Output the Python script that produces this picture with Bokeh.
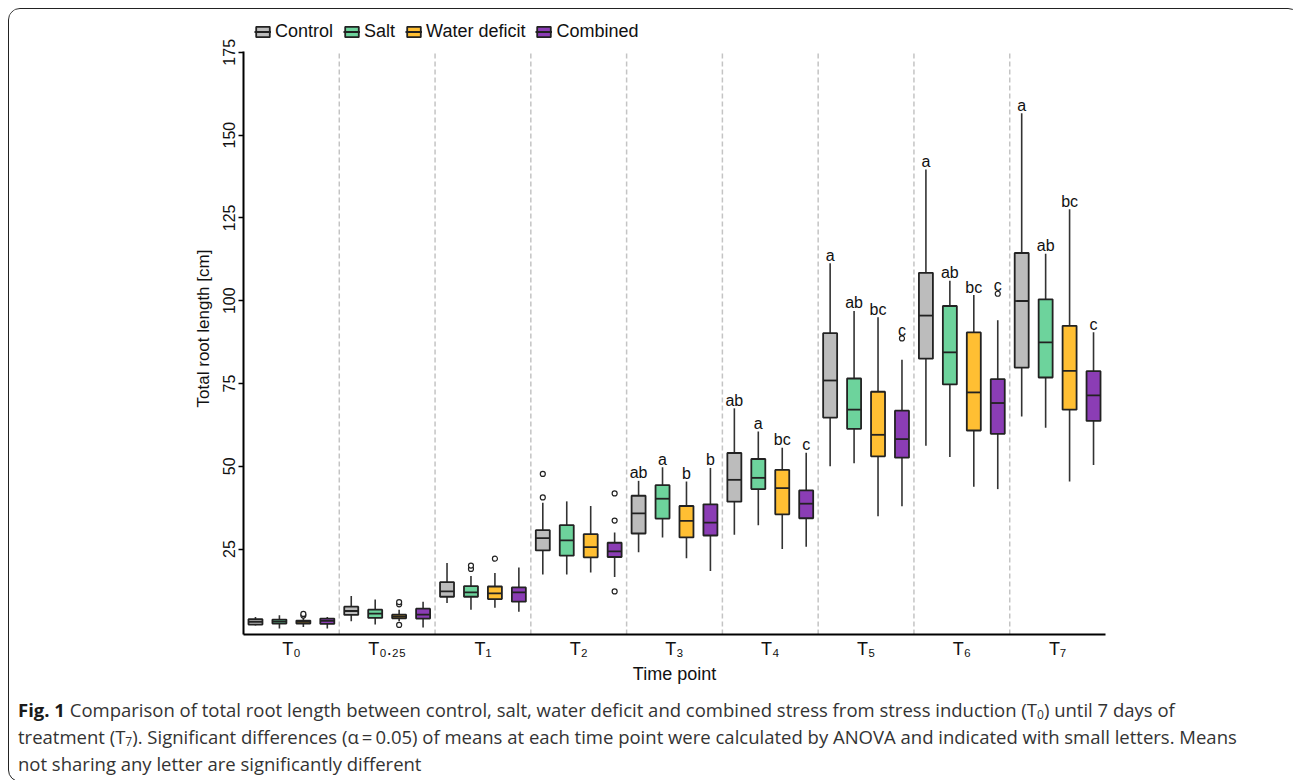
from bokeh.plotting import figure
from bokeh.models import ColumnDataSource, FixedTicker, Legend, LegendItem, Div
from bokeh.layouts import column
from bokeh.embed import file_html
from bokeh.resources import INLINE
from bokeh.core.properties import value

# ---------------- data ----------------
time_labels = ["T\u2080", "T\u2080.\u2082\u2085", "T\u2081", "T\u2082", "T\u2083",
               "T\u2084", "T\u2085", "T\u2086", "T\u2087"]
treatments = ["Control", "Salt", "Water deficit", "Combined"]
y_ticks = [25, 50, 75, 100, 125, 150, 175]

control_lo = [1.9, 3.2, 8.7, 17.3, 24.0, 29.3, 50.0, 56.2, 65.0]
control_q1 = [2.2, 5.1, 10.6, 24.6, 29.7, 39.3, 64.7, 82.5, 79.8]
control_med = [3.0, 6.3, 12.2, 28.3, 35.8, 45.9, 75.9, 95.5, 99.9]
control_q3 = [3.8, 7.6, 15.0, 30.7, 41.1, 54.0, 90.2, 108.4, 114.4]
control_hi = [4.5, 10.8, 20.8, 39.0, 45.6, 67.5, 111.3, 139.6, 156.6]
control_out_t = [3, 3]
control_out_v = [40.6, 47.7]
control_letters = ["", "", "", "", "ab", "ab", "a", "a", "a"]

salt_lo = [1.0, 2.2, 6.7, 17.3, 28.5, 32.2, 50.9, 52.8, 61.6]
salt_q1 = [2.5, 4.2, 10.6, 23.0, 34.2, 43.1, 61.3, 74.7, 76.8]
salt_med = [3.1, 5.5, 11.9, 27.6, 40.2, 46.5, 67.1, 84.4, 87.4]
salt_q3 = [3.7, 6.7, 13.8, 32.2, 44.3, 52.2, 76.5, 98.4, 100.4]
salt_hi = [5.0, 9.8, 16.9, 39.4, 49.7, 60.5, 96.9, 106.0, 114.2]
salt_out_t = [2, 2]
salt_out_v = [19.0, 20.0]
salt_letters = ["", "", "", "", "a", "a", "ab", "ab", "ab"]

water_lo = [1.5, 3.2, 7.3, 17.9, 22.2, 25.0, 34.9, 43.8, 45.4]
water_q1 = [2.5, 4.1, 9.9, 22.5, 28.5, 35.5, 53.0, 60.8, 67.1]
water_med = [3.0, 4.7, 11.6, 25.6, 33.5, 43.4, 59.5, 72.3, 78.8]
water_q3 = [3.4, 5.2, 13.7, 29.5, 38.0, 48.9, 72.5, 90.4, 92.4]
water_hi = [4.5, 6.7, 17.8, 38.0, 45.4, 55.6, 95.0, 101.7, 127.6]
water_out_t = [0, 0, 1, 1, 1, 2]
water_out_v = [4.9, 5.4, 8.3, 9.0, 2.1, 22.1]
water_letters = ["", "", "", "", "b", "bc", "bc", "bc", "bc"]

comb_lo = [1.0, 1.3, 6.1, 16.6, 18.4, 25.7, 37.9, 43.1, 50.4]
comb_q1 = [2.4, 4.0, 9.1, 22.6, 29.1, 34.3, 52.6, 59.8, 63.7]
comb_med = [3.3, 5.2, 11.9, 24.3, 33.0, 38.7, 58.2, 69.1, 71.4]
comb_q3 = [4.0, 7.0, 13.4, 26.9, 38.5, 42.7, 66.8, 76.3, 78.7]
comb_hi = [4.5, 9.1, 19.4, 30.0, 49.5, 54.1, 82.2, 94.1, 90.5]
comb_out_t = [3, 3, 3, 6, 7]
comb_out_v = [12.2, 33.6, 41.8, 88.6, 102.1]
comb_letters = ["", "", "", "", "b", "c", "c", "c", "c"]

series = [
    (control_lo, control_q1, control_med, control_q3, control_hi, control_out_t, control_out_v, control_letters),
    (salt_lo, salt_q1, salt_med, salt_q3, salt_hi, salt_out_t, salt_out_v, salt_letters),
    (water_lo, water_q1, water_med, water_q3, water_hi, water_out_t, water_out_v, water_letters),
    (comb_lo, comb_q1, comb_med, comb_q3, comb_hi, comb_out_t, comb_out_v, comb_letters),
]

# ---------------- styles ----------------
fills = ["#bcbcbc", "#6dd39c", "#ffbf33", "#8b3db5"]
offsets = [-0.375, -0.125, 0.125, 0.375]
half_w = 0.073
FONT = "Liberation Sans"
EDGE = "#222222"
Y_LO, Y_AXIS_TOP, Y_FRAME_TOP = -0.8, 175.3, 184.0

n = len(time_labels)
p = figure(width=1280, height=682, x_range=(0, n), y_range=(Y_LO, Y_FRAME_TOP),
           output_backend="svg", toolbar_location=None,
           min_border_left=234, min_border_right=184, min_border_top=13, min_border_bottom=57)
p.xgrid.visible = False
p.ygrid.visible = False
p.outline_line_color = None
p.background_fill_color = "white"
p.border_fill_color = "white"

bounds = list(range(1, n))
p.segment(x0=bounds, x1=bounds, y0=[Y_LO] * len(bounds), y1=[Y_AXIS_TOP] * len(bounds),
          line_color="#c4c4c4", line_dash="5 3", line_width=1.5, level="underlay")

legend_items = []
for j, (lo, q1, med, q3, hi, ot, ov, let) in enumerate(series):
    xs = [i + 0.5 + offsets[j] for i in range(n)]
    tops = []
    for i in range(n):
        outs = [v for t, v in zip(ot, ov) if t == i]
        tops.append(max([hi[i]] + outs))
    src = ColumnDataSource(dict(x=xs, left=[x - half_w for x in xs], right=[x + half_w for x in xs],
                                lo=lo, q1=q1, med=med, q3=q3, hi=hi, top=tops, letter=let))
    p.segment(x0="x", y0="lo", x1="x", y1="hi", source=src, line_color="#333333", line_width=1.6)
    qr = p.quad(left="left", right="right", bottom="q1", top="q3", source=src,
                fill_color=fills[j], line_color=EDGE, line_width=1.8)
    mr = p.segment(x0="left", y0="med", x1="right", y1="med", source=src,
                   line_color=EDGE, line_width=1.8)
    osrc = ColumnDataSource(dict(x=[t + 0.5 + offsets[j] for t in ot], y=ov))
    p.scatter(x="x", y="y", source=osrc, size=5, marker="circle", fill_color="white",
              line_color=EDGE, line_width=1.2)
    p.text(x="x", y="top", text="letter", source=src, text_align="center",
           text_baseline="alphabetic", y_offset=-8, text_font=value(FONT),
           text_font_size="16px", text_color="#111111")
    legend_items.append(LegendItem(label=treatments[j], renderers=[qr, mr]))

legend = Legend(items=legend_items, orientation="horizontal", location=(11, 592),
                padding=0, margin=0, spacing=10, label_standoff=4,
                glyph_width=17, glyph_height=13, label_height=18,
                label_text_font=FONT, label_text_font_size="18px", label_text_color="#111111",
                border_line_color=None, background_fill_alpha=0)
p.add_layout(legend, "center")

# y axis
p.yaxis.bounds = (Y_LO, Y_AXIS_TOP)
p.yaxis.ticker = FixedTicker(ticks=y_ticks)
p.yaxis.major_label_orientation = "vertical"
p.yaxis.minor_tick_line_color = None
p.yaxis.major_tick_out = 5
p.yaxis.major_tick_in = 0
p.yaxis.major_tick_line_width = 1.5
p.yaxis.axis_line_width = 2
p.yaxis.axis_line_color = "black"
p.yaxis.major_tick_line_color = "black"
p.yaxis.major_label_text_font = FONT
p.yaxis.major_label_text_font_size = "16px"
p.yaxis.major_label_text_color = "#111111"
p.yaxis.major_label_standoff = 3
p.yaxis.axis_label = "Total root length [cm]"
p.yaxis.axis_label_text_font = FONT
p.yaxis.axis_label_text_font_size = "17px"
p.yaxis.axis_label_text_font_style = "normal"
p.yaxis.axis_label_text_color = "#111111"
p.yaxis.axis_label_standoff = 8

# x axis
xt = [i + 0.5 for i in range(n)]
p.xaxis.ticker = FixedTicker(ticks=xt)
p.xaxis.major_label_overrides = {t: lab for t, lab in zip(xt, time_labels)}
p.xaxis.major_tick_out = 0
p.xaxis.major_tick_in = 0
p.xaxis.minor_tick_line_color = None
p.xaxis.axis_line_width = 2
p.xaxis.axis_line_color = "black"
p.xaxis.major_label_text_font = FONT
p.xaxis.major_label_text_font_size = "18px"
p.xaxis.major_label_text_color = "#111111"
p.xaxis.major_label_standoff = 4
p.xaxis.axis_label = "Time point"
p.xaxis.axis_label_text_font = FONT
p.xaxis.axis_label_text_font_size = "18px"
p.xaxis.axis_label_text_font_style = "normal"
p.xaxis.axis_label_text_color = "#111111"
p.xaxis.axis_label_standoff = 2

SUB = '<span style="font-size:65%;vertical-align:-0.15em;line-height:0">'
caption = ('<b style="color:#1a1a1a">Fig. 1</b> Comparison of total root length between control, salt, water deficit '
           'and combined stress from stress induction (T' + SUB + '0</span>) until 7 days of<br>'
           'treatment (T' + SUB + '7</span>). Significant differences (\u03b1\u2009=\u20090.05) of means at each time point '
           'were calculated by ANOVA and indicated with small letters. Means<br>'
           'not sharing any letter are significantly different')
div = Div(text=caption, width=1280, height=80,
          styles={"font-family": "'Open Sans', sans-serif", "font-size": "18.5px",
                  "line-height": "27px", "color": "#333333", "white-space": "nowrap",
                  "padding-left": "4px", "box-sizing": "border-box"})

layout = column(p, div, spacing=0,
                styles={"border": "1.5px solid #222222", "border-radius": "12px",
                        "overflow": "hidden", "background-color": "white",
                        "margin-left": "8px", "margin-top": "8px"})

open("out.html", "w").write(file_html(layout, INLINE))
